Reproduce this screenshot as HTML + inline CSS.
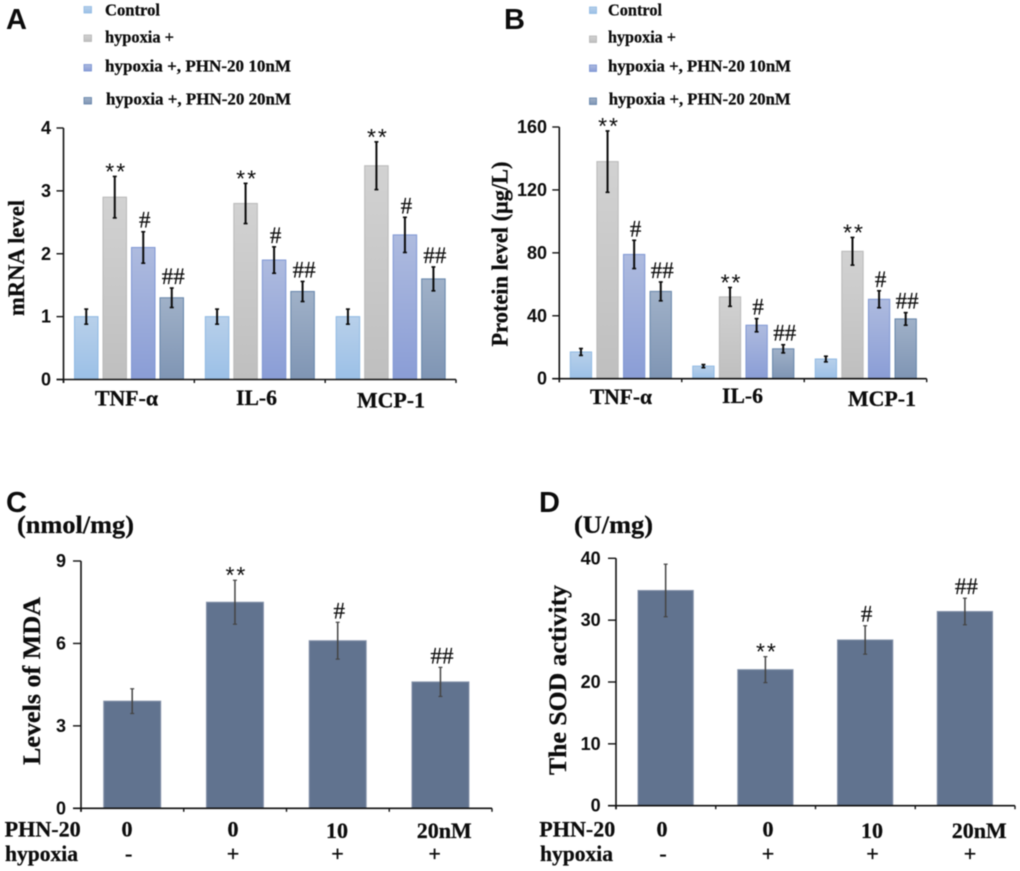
<!DOCTYPE html>
<html lang="en">
<head>
<meta charset="utf-8">
<title>mRNA, protein, MDA and SOD levels</title>
<style>
html,body{margin:0;padding:0;background:#fff;width:1020px;height:871px;overflow:hidden}
svg{display:block;filter:blur(0.45px)}
text{fill:#0c0c0c}
.serif{font-family:"Liberation Serif",serif;font-weight:bold;stroke:#0c0c0c;stroke-width:.25px}
.sans{font-family:"Liberation Sans",sans-serif;font-weight:bold}
.leg{font-size:17px}
.cat{font-size:22px}
.ylab{font-size:23px}
.row{font-size:22px}
.letter{font-size:29px}
</style>
</head>
<body>
<svg id="figure" width="1020" height="871" viewBox="0 0 1020 871" xmlns="http://www.w3.org/2000/svg">
<defs>
<linearGradient id="g0" x1="0" y1="0" x2="0" y2="1"><stop offset="0" stop-color="#b8d0ea"/><stop offset="1" stop-color="#9bc0e7"/></linearGradient>
<linearGradient id="g1" x1="0" y1="0" x2="0" y2="1"><stop offset="0" stop-color="#d2d2d2"/><stop offset="1" stop-color="#bfbfbf"/></linearGradient>
<linearGradient id="g2" x1="0" y1="0" x2="0" y2="1"><stop offset="0" stop-color="#aebbdf"/><stop offset="1" stop-color="#8a9dd6"/></linearGradient>
<linearGradient id="g3" x1="0" y1="0" x2="0" y2="1"><stop offset="0" stop-color="#a0b1c8"/><stop offset="1" stop-color="#7f95b4"/></linearGradient>
</defs>
<rect width="1020" height="871" fill="#fff"/>

<text class="sans letter" x="6" y="29">A</text>
<text class="sans letter" x="504" y="29">B</text>
<text class="sans letter" x="6" y="512">C</text>
<text class="sans letter" x="539" y="512">D</text>

<g>
<rect x="84" y="6.5" width="7.5" height="6.5" fill="url(#g0)" stroke="#8fb9e3" stroke-width=".8"/>
<text class="serif leg" x="105" y="15.3" textLength="55" lengthAdjust="spacingAndGlyphs">Control</text>
<rect x="84" y="35" width="7.5" height="6.5" fill="url(#g1)" stroke="#b5b5b5" stroke-width=".8"/>
<text class="serif leg" x="105" y="42.7" textLength="69" lengthAdjust="spacingAndGlyphs">hypoxia +</text>
<rect x="84" y="64.5" width="7.5" height="6.5" fill="url(#g2)" stroke="#7590d2" stroke-width=".8"/>
<text class="serif leg" x="105" y="71.3" textLength="186" lengthAdjust="spacingAndGlyphs">hypoxia +, PHN-20 10nM</text>
<rect x="84" y="97.5" width="7.5" height="6.5" fill="url(#g3)" stroke="#5f80a8" stroke-width=".8"/>
<text class="serif leg" x="106" y="104.7" textLength="185" lengthAdjust="spacingAndGlyphs">hypoxia +, PHN-20 20nM</text>
</g>

<g>
<rect x="589.5" y="7" width="7" height="6.5" fill="url(#g0)" stroke="#8fb9e3" stroke-width=".8"/>
<text class="serif leg" x="608" y="15.3" textLength="54" lengthAdjust="spacingAndGlyphs">Control</text>
<rect x="589.5" y="36" width="7" height="6.5" fill="url(#g1)" stroke="#b5b5b5" stroke-width=".8"/>
<text class="serif leg" x="608" y="42.7" textLength="68" lengthAdjust="spacingAndGlyphs">hypoxia +</text>
<rect x="589.5" y="65" width="7" height="6.5" fill="url(#g2)" stroke="#7590d2" stroke-width=".8"/>
<text class="serif leg" x="608" y="71.3" textLength="183" lengthAdjust="spacingAndGlyphs">hypoxia +, PHN-20 10nM</text>
<rect x="589.5" y="98" width="7" height="6.5" fill="url(#g3)" stroke="#5f80a8" stroke-width=".8"/>
<text class="serif leg" x="608.7" y="104.7" textLength="182" lengthAdjust="spacingAndGlyphs">hypoxia +, PHN-20 20nM</text>
</g>

<text class="serif ylab" transform="translate(24,316) rotate(-90)" textLength="116" lengthAdjust="spacingAndGlyphs">mRNA level</text>
<text class="serif ylab" transform="translate(507.5,346.5) rotate(-90)" textLength="185" lengthAdjust="spacingAndGlyphs">Protein level (μg/L)</text>
<text class="serif" style="font-size:25px" transform="translate(40,765) rotate(-90)" textLength="168" lengthAdjust="spacingAndGlyphs">Levels of MDA</text>
<text class="serif" style="font-size:25px" transform="translate(566,775) rotate(-90)" textLength="190" lengthAdjust="spacingAndGlyphs">The SOD activity</text>
<text class="serif" style="font-size:25px" x="17" y="533" textLength="117" lengthAdjust="spacingAndGlyphs">(nmol/mg)</text>
<text class="serif" style="font-size:25px" x="574" y="533" textLength="79" lengthAdjust="spacingAndGlyphs">(U/mg)</text>

<text class="serif cat" x="95" y="405.7" textLength="63" lengthAdjust="spacingAndGlyphs">TNF-α</text>
<text class="serif cat" x="236" y="405" textLength="41" lengthAdjust="spacingAndGlyphs">IL-6</text>
<text class="serif cat" x="357" y="407.5" textLength="68" lengthAdjust="spacingAndGlyphs">MCP-1</text>
<text class="serif cat" x="590" y="404" textLength="62" lengthAdjust="spacingAndGlyphs">TNF-α</text>
<text class="serif cat" x="722" y="403" textLength="41" lengthAdjust="spacingAndGlyphs">IL-6</text>
<text class="serif cat" x="848" y="406" textLength="68" lengthAdjust="spacingAndGlyphs">MCP-1</text>

<g>
<text class="serif row" x="4.7" y="836.7" textLength="76" lengthAdjust="spacingAndGlyphs">PHN-20</text>
<text class="serif row" x="127" y="836.7" text-anchor="middle">0</text>
<text class="serif row" x="233" y="836.7" text-anchor="middle">0</text>
<text class="serif row" x="337" y="838" text-anchor="middle">10</text>
<text class="serif row" x="416.7" y="838" textLength="55" lengthAdjust="spacingAndGlyphs">20nM</text>
<text class="serif row" x="5" y="861" textLength="73" lengthAdjust="spacingAndGlyphs">hypoxia</text>
<text class="serif row" x="128.7" y="861" text-anchor="middle">-</text>
<text class="serif row" x="233" y="861" text-anchor="middle">+</text>
<text class="serif row" x="337.5" y="861" text-anchor="middle">+</text>
<text class="serif row" x="434.7" y="861" text-anchor="middle">+</text>
</g>
<g>
<text class="serif row" x="539.3" y="836.7" textLength="76" lengthAdjust="spacingAndGlyphs">PHN-20</text>
<text class="serif row" x="662" y="836.7" text-anchor="middle">0</text>
<text class="serif row" x="768" y="836.7" text-anchor="middle">0</text>
<text class="serif row" x="872" y="838" text-anchor="middle">10</text>
<text class="serif row" x="951.7" y="838" textLength="55" lengthAdjust="spacingAndGlyphs">20nM</text>
<text class="serif row" x="540" y="861" textLength="73" lengthAdjust="spacingAndGlyphs">hypoxia</text>
<text class="serif row" x="663" y="861" text-anchor="middle">-</text>
<text class="serif row" x="768" y="861" text-anchor="middle">+</text>
<text class="serif row" x="872.5" y="861" text-anchor="middle">+</text>
<text class="serif row" x="970" y="861" text-anchor="middle">+</text>
</g>
</svg>

<script>
// Panel A: mRNA level (TNF-a, IL-6, MCP-1)
const aTicks = [0, 1, 2, 3, 4];
const aControl = [1, 1, 1];
const aHypoxia = [2.9, 2.8, 3.4];
const aPhn10 = [2.1, 1.9, 2.3];
const aPhn20 = [1.3, 1.4, 1.6];
const aControlErr = [0.12, 0.12, 0.12];
const aHypoxiaErr = [0.33, 0.32, 0.38];
const aPhn10Err = [0.25, 0.21, 0.28];
const aPhn20Err = [0.155, 0.16, 0.19];

// Panel B: protein level (TNF-a, IL-6, MCP-1)
const bTicks = [0, 40, 80, 120, 160];
const bControl = [17, 8, 12.5];
const bHypoxia = [138, 52, 81];
const bPhn10 = [79, 34, 50.5];
const bPhn20 = [55.5, 19, 38];
const bControlErr = [2.2, 1, 1.8];
const bHypoxiaErr = [19.5, 6, 8.8];
const bPhn10Err = [9, 4.2, 5.4];
const bPhn20Err = [6, 2.6, 4];

// Panel C: MDA
const cTicks = [0, 3, 6, 9];
const cValues = [3.9, 7.5, 6.1, 4.6];
const cErrors = [0.45, 0.8, 0.67, 0.53];
const cMarks = ['', '**', '#', '##'];

// Panel D: SOD
const dTicks = [0, 10, 20, 30, 40];
const dValues = [34.8, 22, 26.8, 31.4];
const dErrors = [4.25, 2.1, 2.3, 2.15];
const dMarks = ['', '**', '#', '##'];

// Significance marks per series in the grouped panels
const groupedMarks = ['', '**', '#', '##'];

const NS = 'http://www.w3.org/2000/svg';
const fig = document.getElementById('figure');

function node(tag, attrs, parent) {
  const el = document.createElementNS(NS, tag);
  for (const k in attrs) el.setAttribute(k, attrs[k]);
  parent.appendChild(el);
  return el;
}

function makeGroup(name) {
  const g = document.createElementNS(NS, 'g');
  
  
  fig.appendChild(g);
  return g;
}

function drawLine(parent, name, x1, y1, x2, y2, color, width) {
  const l = node('line', { x1, y1, x2, y2, stroke: color, 'stroke-width': width }, parent);
  
  
  return l;
}

function drawBar(parent, name, x, w, yTop, yBase, fill, stroke) {
  const r = node('rect', { x, y: yTop, width: w, height: Math.max(0, yBase - yTop), fill, stroke, 'stroke-width': 1 }, parent);
  
  
  return r;
}

function drawError(parent, name, cx, yHi, yLo, color, width) {
  const g = document.createElementNS(NS, 'g');
  
  
  parent.appendChild(g);
  node('line', { x1: cx, y1: yHi, x2: cx, y2: yLo, stroke: color, 'stroke-width': width }, g);
  node('line', { x1: cx - 2, y1: yHi, x2: cx + 2, y2: yHi, stroke: color, 'stroke-width': width * 0.8 }, g);
  node('line', { x1: cx - 2, y1: yLo, x2: cx + 2, y2: yLo, stroke: color, 'stroke-width': width * 0.8 }, g);
}

function drawMark(parent, mark, cx, yHi) {
  if (!mark) return;
  const t = document.createElementNS(NS, 'text');
  
  
  t.setAttribute('text-anchor', 'middle');
  t.setAttribute('x', cx + 1.5);
  if (mark === '**') {
    t.setAttribute('y', yHi + 3);
    t.setAttribute('style', 'font:23px "Liberation Sans",sans-serif;letter-spacing:2px');
  } else {
    t.setAttribute('y', yHi - 4);
    t.setAttribute('style', 'font:23px "Liberation Serif",serif;stroke:#0c0c0c;stroke-width:.2px');
  }
  t.textContent = mark;
  parent.appendChild(t);
}

function drawAxes(parent, cfg, yScale, ticks, groups) {
  const color = '#111';
  drawLine(parent, 'y-axis-line', cfg.x0, yScale(ticks[ticks.length - 1]), cfg.x0, cfg.y0 + cfg.xTick, color, 1.6);
  drawLine(parent, 'x-axis-line', cfg.x0 - cfg.yTick, cfg.y0, cfg.x1, cfg.y0, color, 1.6);
  ticks.forEach(function (v) {
    const y = yScale(v);
    drawLine(parent, 'y-tick', cfg.x0 - cfg.yTick, y, cfg.x0, y, color, 1.4);
    const t = document.createElementNS(NS, 'text');
    
    
    t.setAttribute('class', 'sans');
    t.setAttribute('text-anchor', 'end');
    t.setAttribute('x', cfg.labelX);
    t.setAttribute('y', y + 6);
    t.setAttribute('style', 'font-size:' + cfg.tickFont + 'px');
    t.textContent = v;
    parent.appendChild(t);
  });
  const step = (cfg.x1 - cfg.x0) / groups;
  for (let i = 0; i <= groups; i++) {
    const x = cfg.x0 + step * i;
    drawLine(parent, 'x-tick', x, cfg.y0, x, cfg.y0 + cfg.xTick, color, 1.4);
  }
}

const seriesFills = ['url(#g0)', 'url(#g1)', 'url(#g2)', 'url(#g3)'];
const seriesStrokes = ['#8fb9e3', '#b9b9b9', '#7f97d4', '#6585aa'];

function drawGrouped(panel, cfg, ticks, series, errors) {
  const g = makeGroup('chart-' + panel);
  const yMax = ticks[ticks.length - 1];
  const yScale = function (v) { return cfg.y0 - (v / yMax) * (cfg.y0 - cfg.yTop); };
  const groups = series[0].length;
  const groupW = (cfg.x1 - cfg.x0) / groups;
  const xScale = function (gi, si) { return cfg.x0 + gi * groupW + cfg.offset + si * cfg.step; };
  series.forEach(function (vals, si) {
    vals.forEach(function (v, gi) {
      const x = xScale(gi, si);
      const cx = x + cfg.barW / 2;
      drawBar(g, 'bar-' + panel + '-s' + si + '-g' + gi, x, cfg.barW, yScale(v), cfg.y0, seriesFills[si], seriesStrokes[si]);
      const hi = yScale(v + errors[si][gi]);
      const lo = yScale(v - errors[si][gi]);
      drawError(g, 'error-bar', cx, hi, lo, '#0c0c0c', 2);
      drawMark(g, groupedMarks[si], cx, hi);
    });
  });
  drawAxes(g, cfg, yScale, ticks, groups);
}

function drawSimple(panel, cfg, ticks, vals, errs, marks) {
  const g = makeGroup('chart-' + panel);
  const yMax = ticks[ticks.length - 1];
  const yScale = function (v) { return cfg.y0 - (v / yMax) * (cfg.y0 - cfg.yTop); };
  const groupW = (cfg.x1 - cfg.x0) / vals.length;
  const xScale = function (i) { return cfg.x0 + i * groupW + cfg.offset; };
  vals.forEach(function (v, i) {
    const x = xScale(i);
    const cx = x + cfg.barW / 2;
    drawBar(g, 'bar-' + panel + '-' + i, x, cfg.barW, yScale(v), cfg.y0, '#61738f', '#8794ab');
    const hi = yScale(v + errs[i]);
    const lo = yScale(v - errs[i]);
    drawError(g, 'error-bar', cx, hi, lo, '#444', 1.5);
    drawMark(g, marks[i], cx, hi);
  });
  drawAxes(g, cfg, yScale, ticks, vals.length);
}

drawGrouped('a',
  { x0: 63.5, x1: 456, y0: 379.5, yTop: 128, offset: 11, step: 28.5, barW: 23.5, yTick: 7, xTick: 3.5, labelX: 51, tickFont: 18 },
  aTicks,
  [aControl, aHypoxia, aPhn10, aPhn20],
  [aControlErr, aHypoxiaErr, aPhn10Err, aPhn20Err]);

drawGrouped('b',
  { x0: 559.3, x1: 926.7, y0: 378.7, yTop: 127, offset: 11, step: 26.6, barW: 21.3, yTick: 7, xTick: 3.5, labelX: 547, tickFont: 18 },
  bTicks,
  [bControl, bHypoxia, bPhn10, bPhn20],
  [bControlErr, bHypoxiaErr, bPhn10Err, bPhn20Err]);

drawSimple('c',
  { x0: 81, x1: 492, y0: 808.3, yTop: 561, offset: 22.7, barW: 57, yTick: 8, xTick: 3.5, labelX: 66, tickFont: 18 },
  cTicks, cValues, cErrors, cMarks);

drawSimple('d',
  { x0: 616, x1: 1015, y0: 805.7, yTop: 558.3, offset: 22, barW: 55.3, yTick: 8, xTick: 3.5, labelX: 600.7, tickFont: 18 },
  dTicks, dValues, dErrors, dMarks);
</script>
</body>
</html>
